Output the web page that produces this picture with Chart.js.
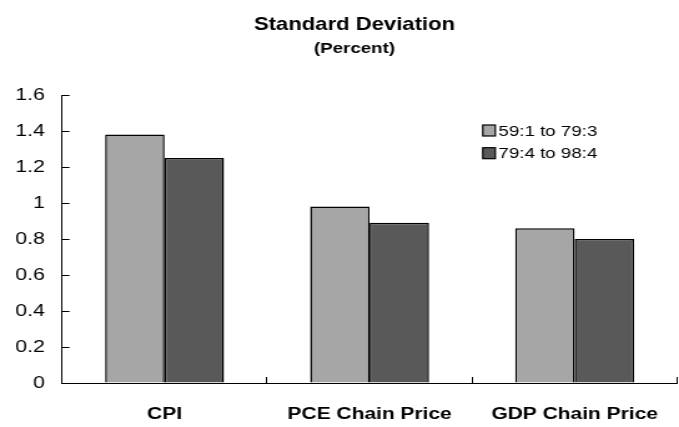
<!DOCTYPE html>
<html>
<head>
<meta charset="utf-8">
<script src="https://cdn.jsdelivr.net/npm/chart.js@4/dist/chart.umd.min.js"></script>
<style>
  html, body { margin: 0; padding: 0; background: #ffffff; }
  #wrap { width: 679px; height: 427px; overflow: hidden; background: #ffffff; }
  #c { width: 544px; height: 427px; transform: scaleX(1.2482); transform-origin: 0 0; display: block; }
</style>
</head>
<body>
<div id="wrap"><canvas id="c" width="544" height="427"></canvas></div>
<script>
// ---- data ----
const categories = ["CPI", "PCE Chain Price", "GDP Chain Price"];
const seriesNames = ["59:1 to 79:3", "79:4 to 98:4"];
const early = [1.38, 0.98, 0.86];
const late = [1.25, 0.89, 0.80];
const yTickLabels = ["0", "0.2", "0.4", "0.6", "0.8", "1", "1.2", "1.4", "1.6"];
const titleText = "Standard Deviation";
const subtitleText = "(Percent)";

const FONT = "'Liberation Sans', Arial, Helvetica, sans-serif";
const seriesColors = ["#a6a6a6", "#595959"];

const overlay = {
  id: 'overlay',
  afterDraw(chart) {
    const ctx = chart.ctx;
    ctx.save();
    ctx.fillStyle = '#000';
    ctx.textAlign = 'center';
    ctx.textBaseline = 'alphabetic';
    ctx.font = "bold 17.7px " + FONT;
    ctx.fillText(titleText, 284, 29.5);
    ctx.font = "bold 15px " + FONT;
    ctx.fillText(subtitleText, 284, 52.7);
    // legend
    ctx.textAlign = 'left';
    ctx.font = "15px " + FONT;
    const rows = [[125, 135.7], [147.7, 158.3]];
    chart.data.datasets.forEach((ds, i) => {
      const [sy, by] = rows[i];
      ctx.fillStyle = ds.backgroundColor;
      ctx.fillRect(386.8, sy, 10, 11);
      ctx.strokeStyle = '#000';
      ctx.lineWidth = 1.2;
      ctx.strokeRect(386.8, sy, 10, 11);
      ctx.fillStyle = '#000';
      ctx.fillText(ds.label, 399.3, by);
    });
    ctx.restore();
  }
};

new Chart(document.getElementById('c'), {
  type: 'bar',
  data: {
    labels: categories,
    datasets: [
      { label: seriesNames[0], data: early, backgroundColor: seriesColors[0], borderColor: '#000', borderWidth: 1.5 },
      { label: seriesNames[1], data: late, backgroundColor: seriesColors[1], borderColor: '#000', borderWidth: 1.5 }
    ]
  },
  options: {
    responsive: false,
    animation: false,
    devicePixelRatio: 1,
    layout: { padding: { top: 95, right: 1.5, left: 0, bottom: 0 } },
    plugins: { legend: { display: false }, title: { display: false }, tooltip: { enabled: false } },
    datasets: { bar: { categoryPercentage: 0.58, barPercentage: 1.0 } },
    scales: {
      x: {
        offset: true,
        grid: { offset: true, drawOnChartArea: false, drawTicks: true, tickLength: -6, color: '#000', lineWidth: 1 },
        border: { display: true, color: '#000', width: 1 },
        ticks: { color: '#000', padding: 27, font: { family: FONT, size: 16.8, weight: 'bold' }, maxRotation: 0, autoSkip: false },
        afterFit(scale) { scale.height = 44; scale.paddingLeft = 0; scale.paddingRight = 0; }
      },
      y: {
        min: 0, max: 1.6,
        grid: { drawOnChartArea: false, drawTicks: true, tickLength: -6, color: '#000', lineWidth: 1 },
        border: { display: true, color: '#000', width: 1 },
        ticks: {
          stepSize: 0.2, color: '#000', padding: 19.7,
          font: { family: FONT, size: 17 },
          callback: (v) => yTickLabels[Math.round(v / 0.2)]
        },
        afterFit(scale) { scale.width = 49.7; scale.paddingTop = 0; scale.paddingBottom = 0; }
      }
    }
  },
  plugins: [overlay]
});
</script>
</body>
</html>
